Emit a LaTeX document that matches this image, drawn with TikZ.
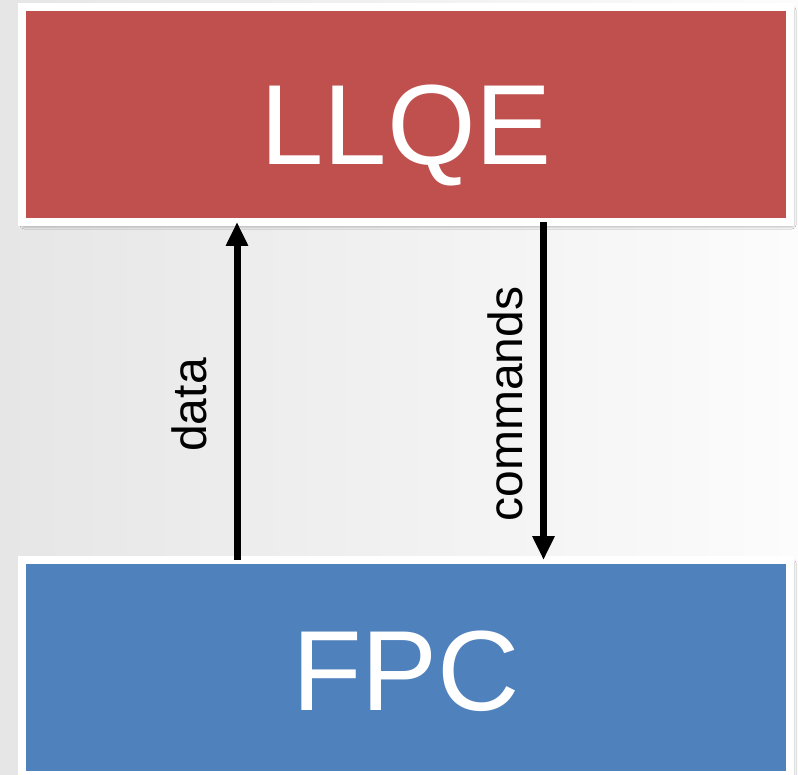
\documentclass[tikz,border=0pt]{standalone}
\usepackage{fontspec}
\setmainfont{Liberation Sans}
\usetikzlibrary{arrows.meta,shadows.blur}
\definecolor{llqered}{RGB}{192,80,77}
\definecolor{fpcblue}{RGB}{79,129,189}
\definecolor{bgleft}{RGB}{230,230,230}
\definecolor{bgright}{RGB}{252,252,252}
\tikzset{
  block/.style={draw=white, line width=8pt, outer sep=0pt, inner sep=0pt,
    minimum width=768pt, minimum height=215pt, text=white, text depth=0pt,
    font=\fontsize{114}{118}\selectfont,
    blur shadow={shadow xshift=2pt, shadow yshift=-3pt,
      shadow blur radius=4pt, shadow opacity=60}},
  flow/.style={line width=7pt, -{Triangle[length=24pt,width=21pt]}},
  flowlabel/.style={rotate=90, anchor=south, inner sep=0pt, text depth=0pt,
    font=\fontsize{48}{50}\selectfont}
}
\begin{document}
\begin{tikzpicture}[x=1pt,y=-1pt]
\useasboundingbox (0,0) rectangle (798,775);
% soft grey-to-white backdrop
\shade[left color=bgleft, right color=bgright] (0,0) rectangle (798,775);

% the two blocks
\node[block, fill=llqered, text height=101pt] (llqe) at (406,114.5) {LLQE};
\node[block, fill=fpcblue, text height=85pt] (fpc) at (406,667.5) {FPC};

% columns of the two links
\coordinate (datacol) at (237,0);
\coordinate (cmdcol) at (543.5,0);

\draw[flow] (fpc.north -| datacol) -- (llqe.south -| datacol);
\draw[flow] (llqe.south -| cmdcol) -- (fpc.north -| cmdcol);

\node[flowlabel] (datalabel) at (207,405) {data};
\node[flowlabel] (cmdlabel) at (523,404) {commands};
\end{tikzpicture}
\end{document}
